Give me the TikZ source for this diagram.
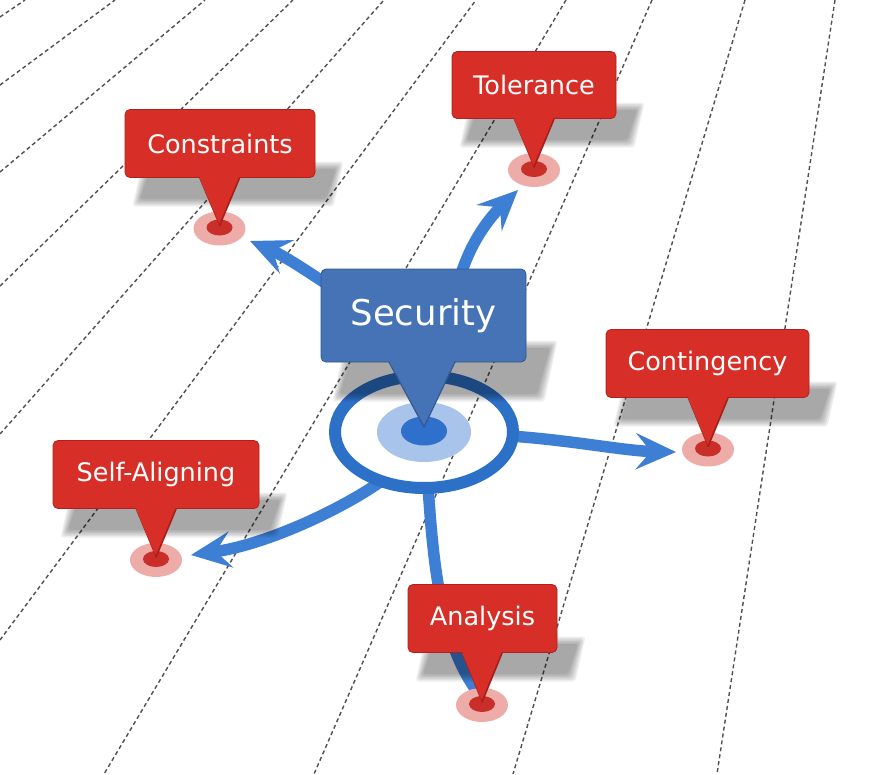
\documentclass[tikz,border=0pt]{standalone}
\usepackage{fontspec}
\setmainfont{DejaVu Sans}
\usetikzlibrary{arrows.meta}
\definecolor{pinred}{RGB}{215,47,39}
\definecolor{pinredd}{RGB}{165,30,25}
\definecolor{tgtout}{RGB}{238,172,168}
\definecolor{tgtin}{RGB}{201,46,41}
\definecolor{secblue}{RGB}{70,115,181}
\definecolor{secbluedark}{RGB}{50,88,146}
\definecolor{ringblue}{RGB}{45,112,200}
\definecolor{lightblue}{RGB}{168,196,234}
\definecolor{coreblue}{RGB}{46,112,204}
\definecolor{arrowblue}{RGB}{62,127,214}
\definecolor{dashgray}{RGB}{80,80,80}
\tikzset{
  dashline/.style={draw=dashgray, line width=1.4pt, dash pattern=on 4pt off 3pt},
  bluearrow/.style={draw=arrowblue, line width=11.5pt, -{Stealth[length=40pt,width=36pt,inset=15pt]}},
  blueshaft/.style={draw=arrowblue, line width=11.5pt},
  redbox/.style={fill=pinred, draw=pinredd!80!pinred, line width=0.8pt, rounded corners=5pt,
    text=white, font=\fontsize{25.5}{30}\selectfont, inner sep=0pt},
  secbox/.style={fill=secblue, draw=secbluedark, line width=0.8pt, rounded corners=5pt,
    text=white, font=\fontsize{35.5}{42}\selectfont, inner sep=0pt},
}
% soft shadow: x-left, x-right (bottom edge), y-bottom, y-top, skew
\newcommand\softshadow[5]{%
  \foreach \dd in {4.5,3,1.5,0,-1.5,-3}{%
    \fill[black,opacity=0.068,rounded corners=3pt]
      ({#1-(\dd)},{#3+(\dd)}) -- ({#2+(\dd)},{#3+(\dd)}) --
      ({#2+#5+(\dd)},{#4-(\dd)}) -- ({#1+#5-(\dd)},{#4-(\dd)}) -- cycle;}}
% pin: name, left, top, right, bottom, target x, target y, text
\newcommand\pin[8]{%
  \fill[tgtout] (#6,#7) ellipse [x radius=26pt, y radius=17pt];
  \fill[tgtin] (#6,#7-1) ellipse [x radius=13pt, y radius=8pt];
  \softshadow{#2+12}{#4+14}{#5+24}{#5-12}{10}
  \node[redbox, minimum width={#4-#2}, minimum height={#5-#3}] (#1) at ({(#2+#4)/2},{(#3+#5)/2-0.5}) {#8};
  \fill[pinred] (#6-20,#5-1.5) -- (#6+20,#5-1.5) -- (#6,#7-3) -- cycle;
  \draw[pinredd, line width=1.6pt, line cap=round] (#6+20,#5) -- (#6,#7-3);
  \draw[pinredd!70!pinred, line width=0.8pt] (#6-20,#5) -- (#6,#7-3);
}
\begin{document}
\begin{tikzpicture}[x=1pt,y=-1pt]
\useasboundingbox (0,0) rectangle (870,774);
\fill[white] (0,0) rectangle (870,774);
\clip (0,0) rectangle (870,774);
% perspective grid
\draw[dashline] (0,17) -- (25,0);
\draw[dashline] (0,85) -- (115,0);
\draw[dashline] (0,172) -- (205,0);
\draw[dashline] (0,286) -- (293,0);
\draw[dashline] (0,434) -- (384,0);
\draw[dashline] (0,640) -- (476,0);
\draw[dashline] (566,0) -- (104,774);
\draw[dashline] (652,0) -- (314,774);
\draw[dashline] (745,0) -- (513,774);
\draw[dashline] (835,0) -- (717,774);
% arrow end points
\coordinate (a1s) at (350,300); \coordinate (a1e) at (250,241);
\coordinate (a2s) at (455,300); \coordinate (a2e) at (518,190);
\coordinate (a3s) at (510,436); \coordinate (a3e) at (676,452);
\coordinate (a4s) at (380,482); \coordinate (a4e) at (191,555);
\coordinate (a5s) at (428,486); \coordinate (a5e) at (476,690);
\draw[bluearrow] (a1s) .. controls (318,278) and (285,256) .. (a1e);
\draw[bluearrow] (a2s) .. controls (462,255) and (485,222) .. (a2e);
\draw[bluearrow] (a3s) .. controls (570,440) and (625,451) .. (a3e);
\draw[bluearrow] (a4s) .. controls (340,510) and (265,545) .. (a4e);
\draw[blueshaft] (a5s) .. controls (433,560) and (440,640) .. (a5e);
% target ring
\coordinate (ctr) at (424,432);
\draw[ringblue, line width=12pt] (ctr) ellipse [x radius=89pt, y radius=56pt];
\fill[lightblue] (ctr) ellipse [x radius=47pt, y radius=30pt];
\fill[coreblue] (424,431) ellipse [x radius=23pt, y radius=14.5pt];
% pins
\pin{constraints}{125}{110}{315}{178}{219.5}{228.5}{Constraints}
\pin{tolerance}{452}{52}{616}{119}{534}{170}{Tolerance}
\pin{contingency}{606}{330}{809}{398}{708}{449.5}{Contingency}
\pin{selfaligning}{53}{441}{259}{509}{156}{560}{Self-Aligning}
\pin{analysis}{408}{585}{557}{653}{482}{705}{Analysis}
% central pin
\softshadow{337}{540}{397}{345}{13}
\node[secbox, minimum width=205, minimum height=93] (security) at (423.5,315.5) {Security};
\fill[secblue] (389,360.5) -- (455,360.5) -- (424,427) -- cycle;
\draw[secbluedark, line width=1.2pt] (389,362) -- (424,427) -- (455,362);
\end{tikzpicture}
\end{document}
